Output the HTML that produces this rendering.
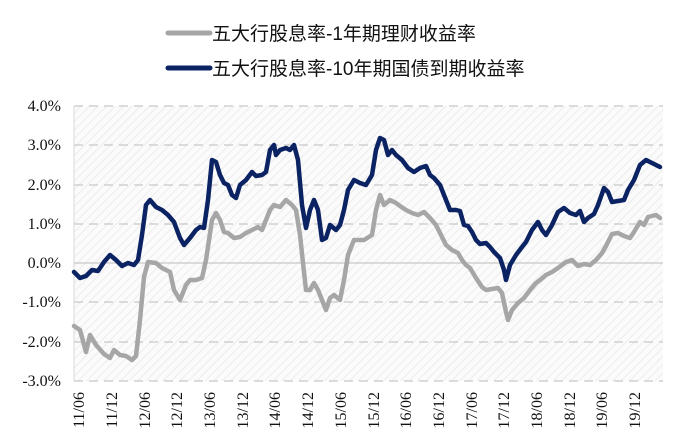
<!DOCTYPE html>
<html><head><meta charset="utf-8"><style>
html,body{margin:0;padding:0;background:#fff;}
svg{display:block;}
</style></head><body>
<svg width="686" height="448" xmlns="http://www.w3.org/2000/svg">
<defs>
<pattern id="h" width="6" height="6" patternUnits="userSpaceOnUse" patternTransform="rotate(45)">
<rect width="6" height="6" fill="#fbfbfb"/>
<line x1="0" y1="0" x2="0" y2="6" stroke="#ececec" stroke-width="2"/>
</pattern>
</defs>
<rect x="74" y="106" width="589" height="275" fill="url(#h)"/>
<g stroke="#c8c8c8" stroke-width="1.3" stroke-dasharray="9,6">
<line x1="74" y1="106" x2="663" y2="106"/>
<line x1="74" y1="145" x2="663" y2="145"/>
<line x1="74" y1="185" x2="663" y2="185"/>
<line x1="74" y1="224" x2="663" y2="224"/>
<line x1="74" y1="302" x2="663" y2="302"/>
<line x1="74" y1="342" x2="663" y2="342"/>
<line x1="74" y1="381" x2="663" y2="381"/>
</g>
<line x1="74" y1="263" x2="663" y2="263" stroke="#c8c8c8" stroke-width="1.3"/>
<line x1="74" y1="106" x2="74" y2="381" stroke="#d8d8d8" stroke-width="1"/>
<g font-family="Liberation Serif, serif" font-size="16" fill="#111" text-anchor="end">
<text x="61" y="111">4.0%</text>
<text x="61" y="150">3.0%</text>
<text x="61" y="190">2.0%</text>
<text x="61" y="229">1.0%</text>
<text x="61" y="268">0.0%</text>
<text x="61" y="307">-1.0%</text>
<text x="61" y="347">-2.0%</text>
<text x="61" y="386">-3.0%</text>
</g>
<g font-family="Liberation Serif, serif" font-size="16" fill="#111" text-anchor="end">
<text transform="translate(84,392) rotate(-90)">11/06</text>
<text transform="translate(117,392) rotate(-90)">11/12</text>
<text transform="translate(150,392) rotate(-90)">12/06</text>
<text transform="translate(182,392) rotate(-90)">12/12</text>
<text transform="translate(215,392) rotate(-90)">13/06</text>
<text transform="translate(248,392) rotate(-90)">13/12</text>
<text transform="translate(280,392) rotate(-90)">14/06</text>
<text transform="translate(313,392) rotate(-90)">14/12</text>
<text transform="translate(346,392) rotate(-90)">15/06</text>
<text transform="translate(379,392) rotate(-90)">15/12</text>
<text transform="translate(411,392) rotate(-90)">16/06</text>
<text transform="translate(444,392) rotate(-90)">16/12</text>
<text transform="translate(477,392) rotate(-90)">17/06</text>
<text transform="translate(509,392) rotate(-90)">17/12</text>
<text transform="translate(542,392) rotate(-90)">18/06</text>
<text transform="translate(575,392) rotate(-90)">18/12</text>
<text transform="translate(607,392) rotate(-90)">19/06</text>
<text transform="translate(640,392) rotate(-90)">19/12</text>
</g>
<polyline fill="none" stroke="#a6a6a6" stroke-width="4.5" stroke-linejoin="round" stroke-linecap="round" points="74,326 80,330 86,352 90,335 96,345 104,354 110,358 114,350 120,355 126,356 132,360 136,356 140,320 144,277 148,262 156,263 162,268 166,270 170,272 174,290 180,300 186,285 190,280 196,280 202,278 206,260 212,220 216,213 220,220 224,232 228,233 234,238 240,237 246,233 252,230 258,227 262,230 270,210 274,205 280,207 286,200 292,205 296,210 300,235 304,272 306,290 310,290 314,283 318,290 322,300 326,310 330,298 334,295 340,300 344,280 348,255 354,240 358,240 364,240 372,235 376,210 380,195 384,205 390,200 396,203 400,206 406,210 412,213 418,215 424,212 430,218 436,225 440,233 446,245 452,250 458,253 462,260 466,265 470,268 476,278 482,287 486,290 492,289 498,288 502,293 506,312 508,320 512,310 518,303 524,298 530,290 536,283 540,280 546,275 552,272 558,268 562,265 566,262 572,260 578,266 584,264 590,265 596,260 602,253 606,246 612,234 618,233 624,236 630,238 634,232 640,222 644,225 648,217 656,215 660,218"/>
<polyline fill="none" stroke="#0b2363" stroke-width="4.5" stroke-linejoin="round" stroke-linecap="round" points="74,272 80,278 86,276 92,270 98,271 104,262 110,255 116,260 122,266 128,263 134,265 138,260 142,235 146,205 150,200 156,207 162,210 168,215 174,222 180,238 184,245 190,238 196,230 200,227 204,228 208,200 212,160 216,162 220,175 224,183 228,185 232,195 236,198 240,185 246,180 252,172 256,176 262,175 266,172 270,150 274,145 276,155 280,150 286,148 290,150 294,145 298,160 302,205 306,228 310,210 314,200 318,210 322,240 326,238 330,225 336,230 340,225 344,210 348,190 354,180 360,183 366,185 372,175 376,150 380,138 384,140 388,155 392,150 396,155 402,160 408,168 414,172 420,168 426,166 430,175 434,178 440,185 444,195 450,210 456,210 460,211 464,225 468,226 472,232 476,240 480,244 486,243 490,247 494,252 500,258 504,270 506,280 510,265 516,255 522,247 526,242 532,230 538,222 542,230 546,235 552,225 558,212 564,208 570,213 576,215 580,211 584,222 588,218 594,214 598,205 604,188 608,192 612,202 618,201 624,200 628,190 634,180 640,165 646,160 652,163 660,167"/>
<line x1="168" y1="33" x2="210" y2="33" stroke="#a6a6a6" stroke-width="5" stroke-linecap="round"/>
<line x1="168" y1="68" x2="210" y2="68" stroke="#0b2363" stroke-width="5" stroke-linecap="round"/>
<g font-family="Liberation Sans, 'Noto Sans CJK SC', sans-serif" font-size="19" fill="#111">
<text x="212" y="40">五大行股息率-1年期理财收益率</text>
<text x="212" y="75">五大行股息率-10年期国债到期收益率</text>
</g>
</svg>
</body></html>
